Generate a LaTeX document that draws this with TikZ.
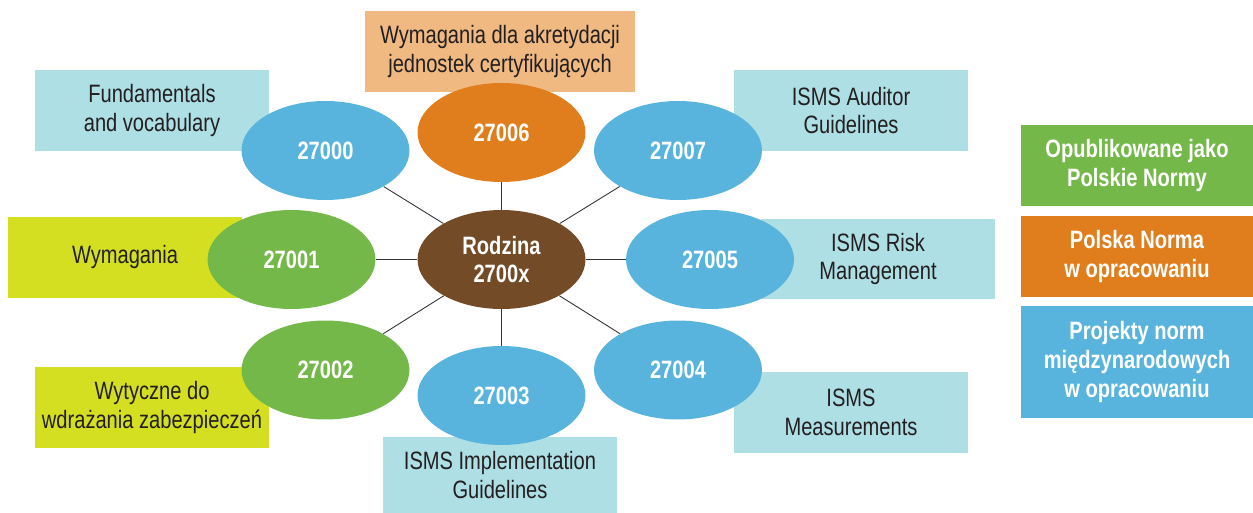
\documentclass[tikz,border=0pt]{standalone}
\usepackage{fontspec}
\setmainfont{Liberation Sans}[FakeStretch=0.8]
\usetikzlibrary{shapes.geometric}
\definecolor{boxblue}{HTML}{AEDFE5}
\definecolor{isoblue}{HTML}{58B4DC}
\definecolor{isogreen}{HTML}{75B84A}
\definecolor{lime}{HTML}{D5DF22}
\definecolor{isoorange}{HTML}{E07E1E}
\definecolor{peach}{HTML}{F0B981}
\definecolor{rodzbrown}{HTML}{734B26}
\definecolor{ink}{HTML}{231F20}
\tikzset{
  descbox/.style={rectangle, inner sep=0pt, minimum width=4.68cm, minimum height=1.62cm,
    align=center, text=ink, font=\fontsize{14.3}{16.4}\selectfont},
  normell/.style={ellipse, inner sep=0pt, minimum width=3.36cm, minimum height=1.98cm,
    align=center, text=white, font=\fontsize{14.3}{16.4}\selectfont\bfseries},
  legendbox/.style={rectangle, inner sep=0pt, minimum width=4.64cm, minimum height=1.62cm,
    align=center, text=white, font=\fontsize{14.3}{16.4}\selectfont\bfseries},
  spoke/.style={line width=0.5pt, draw=black!80}
}
\begin{document}
\begin{tikzpicture}[x=0.02cm, y=-0.02cm]
\useasboundingbox (0,0) rectangle (1253,513);
% description boxes
\node[descbox, fill=boxblue] (fund) at (152,110.5) {Fundamentals\\and vocabulary};
\node[descbox, fill=lime] (wym) at (125,257.5) {Wymagania};
\node[descbox, fill=lime] (wyt) at (152,407.5) {Wytyczne do\\wdrażania zabezpieczeń};
\node[descbox, fill=peach, minimum width=5.4cm] (akr) at (500,51.5) {Wymagania dla akretydacji\\jednostek certyfikujących};
\node[descbox, fill=boxblue] (aud) at (851,110.5) {ISMS Auditor\\Guidelines};
\node[descbox, fill=boxblue, minimum height=1.6cm] (risk) at (878,259) {ISMS Risk\\Management};
\node[descbox, fill=boxblue] (meas) at (851,412.5) {ISMS\\Measurements};
\node[descbox, fill=boxblue, minimum height=1.52cm] (impl) at (500,475) {ISMS Implementation\\Guidelines};
% ellipses
\node[normell, fill=rodzbrown] (rodz) at (501.5,259.5) {Rodzina\\2700x};
\node[normell, fill=isoblue] (n27000) at (325.5,150.5) {27000};
\node[normell, fill=isoorange] (n27006) at (501.5,132.5) {27006};
\node[normell, fill=isoblue] (n27007) at (678,150.5) {27007};
\node[normell, fill=isogreen] (n27001) at (291.5,259.5) {27001};
\node[normell, fill=isoblue] (n27005) at (710,259.5) {27005};
\node[normell, fill=isogreen] (n27002) at (325.5,370) {27002};
\node[normell, fill=isoblue] (n27003) at (501.5,395.5) {27003};
\node[normell, fill=isoblue] (n27004) at (678,370) {27004};
% spokes
\foreach \n in {27000,27006,27007,27001,27005,27002,27003,27004}
  \draw[spoke] (rodz) -- (n\n);
% legend
\node[legendbox, fill=isogreen] (leg1) at (1137,165.5) {Opublikowane jako\\Polskie Normy};
\node[legendbox, fill=isoorange] (leg2) at (1137,256.5) {Polska Norma\\w opracowaniu};
\node[legendbox, fill=isoblue, minimum height=2.24cm] (leg3) at (1137,362) {Projekty norm\\międzynarodowych\\w opracowaniu};
\end{tikzpicture}
\end{document}
